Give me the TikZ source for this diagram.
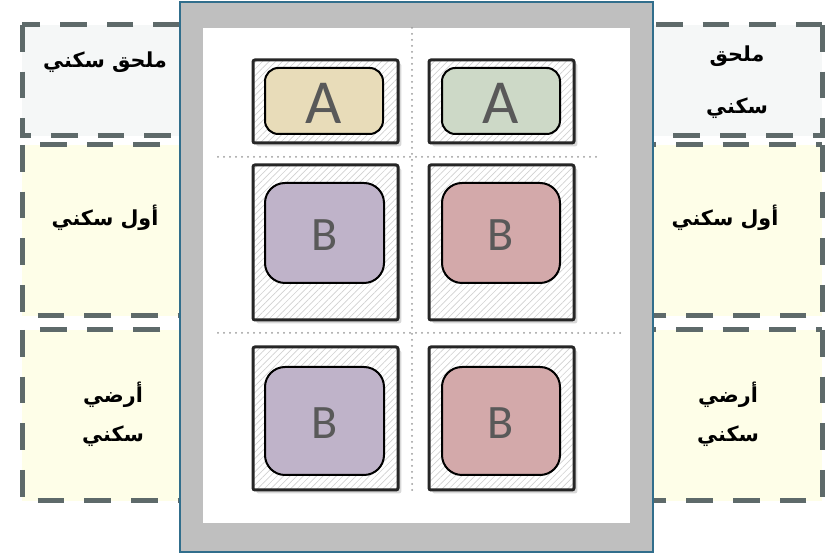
\documentclass[tikz,border=0pt]{standalone}
\usepackage{fontspec}
\newfontfamily\arabicfont[Script=Arabic]{DejaVu Sans}
\newfontfamily\lettersans{Carlito}
\TeXXeTstate=1
\usetikzlibrary{patterns.meta,shadows}

\definecolor{framegray}{RGB}{191,191,191}
\definecolor{frameblue}{RGB}{49,110,140}
\definecolor{dashgray}{RGB}{94,106,106}
\definecolor{panelgray}{RGB}{245,247,247}
\definecolor{panelyellow}{RGB}{254,254,232}
\definecolor{slottan}{RGB}{232,220,185}
\definecolor{slotgreen}{RGB}{205,217,199}
\definecolor{slotlilac}{RGB}{191,179,201}
\definecolor{slotrose}{RGB}{211,169,170}
\definecolor{lettergray}{RGB}{89,89,89}

\tikzset{
  floorpanel/.style={draw=dashgray, line width=3.75pt, dash pattern=on 20pt off 15pt},
  floorlabel/.style={font=\arabicfont\bfseries\fontsize{15.5}{18}\selectfont, inner sep=0pt},
  cellbox/.style={draw=black!85, line width=2.25pt, rounded corners=1.5pt,
    drop shadow={shadow xshift=2.5pt, shadow yshift=-2.5pt, opacity=0.3},
    preaction={fill=white},
    preaction={pattern={Lines[angle=45,distance=3.5pt,line width=0.5pt]}, pattern color=black!18}},
  slotbox/.style={draw=black, line width=1.5pt},
  letterA/.style={font=\lettersans\fontsize{47}{50}\selectfont, text=lettergray, inner sep=0pt},
  letterB/.style={font=\lettersans\fontsize{36}{40}\selectfont, text=lettergray, inner sep=0pt},
  gridline/.style={draw=black!40, line width=1.5pt, line cap=round, dash pattern=on 0pt off 4.5pt}
}

\begin{document}
\begin{tikzpicture}[x=0.75pt,y=0.75pt,yscale=-1,xscale=1]
    \useasboundingbox (0,0) rectangle (840,555);

    %Side panels left
    \fill[panelgray] (22,25) rectangle (180,136);
    \fill[panelyellow] (22,145) rectangle (180,316);
    \fill[panelyellow] (22,330) rectangle (180,501);
    \draw[floorpanel] (22,25) rectangle (200,136);
    \draw[floorpanel] (22,145) rectangle (200,316);
    \draw[floorpanel] (22,330) rectangle (200,501);
    %Side panels right
    \fill[panelgray] (653,25) rectangle (822,136);
    \fill[panelyellow] (653,145) rectangle (822,316);
    \fill[panelyellow] (653,330) rectangle (822,501);
    \draw[floorpanel] (822,25) rectangle (640,136);
    \draw[floorpanel] (822,145) rectangle (640,316);
    \draw[floorpanel] (822,330) rectangle (640,501);

    %Frame
    \draw[frameblue, fill=framegray, line width=1.2pt] (180,2) rectangle (653,552);
    \fill[white] (203,28) rectangle (630,523);

    %Dotted guides
    \draw[gridline] (412,28) -- (412,492);
    \draw[gridline] (218,157) -- (600,157);
    \draw[gridline] (218,333) -- (623,333);

    %Top row
    \draw[cellbox] (253,60) rectangle (398,143);
    \draw[slotbox, fill=slottan, rounded corners=10pt] (265,68) rectangle (383,134);
    \draw[cellbox] (429,60) rectangle (574,143);
    \draw[slotbox, fill=slotgreen, rounded corners=10pt] (442,68) rectangle (560,134);
    %Middle row
    \draw[cellbox] (253,165) rectangle (398,320);
    \draw[slotbox, fill=slotlilac, rounded corners=15pt] (265,183) rectangle (384,283);
    \draw[cellbox] (429,165) rectangle (574,320);
    \draw[slotbox, fill=slotrose, rounded corners=15pt] (442,183) rectangle (560,283);
    %Bottom row
    \draw[cellbox] (253,347) rectangle (398,490);
    \draw[slotbox, fill=slotlilac, rounded corners=15pt] (265,367) rectangle (384,475);
    \draw[cellbox] (429,347) rectangle (574,490);
    \draw[slotbox, fill=slotrose, rounded corners=15pt] (442,367) rectangle (560,475);

    % Letters
    \node[letterA] (annexL) at (324,103) {A};
    \node[letterA] (annexR) at (501,103) {A};
    \node[letterB] (firstL) at (325,235) {B};
    \node[letterB] (firstR) at (501,235) {B};
    \node[letterB] (groundL) at (325,423) {B};
    \node[letterB] (groundR) at (501,423) {B};

    % Text Node
    \node[floorlabel] (annexTextL) at (105,62) {\beginR ملحق سكني\endR};
    \node[floorlabel] (annexTextR1) at (737,56) {\beginR ملحق\endR};
    \node[floorlabel] (annexTextR2) at (737,108) {\beginR سكني\endR};
    \node[floorlabel] (firstTextL) at (105,218) {\beginR أول سكني\endR};
    \node[floorlabel] (firstTextR) at (725,218) {\beginR أول سكني\endR};
    \node[floorlabel] (groundTextL1) at (113,395) {\beginR أرضي\endR};
    \node[floorlabel] (groundTextL2) at (113,436) {\beginR سكني\endR};
    \node[floorlabel] (groundTextR1) at (728,395) {\beginR أرضي\endR};
    \node[floorlabel] (groundTextR2) at (728,436) {\beginR سكني\endR};
\end{tikzpicture}
\end{document}
